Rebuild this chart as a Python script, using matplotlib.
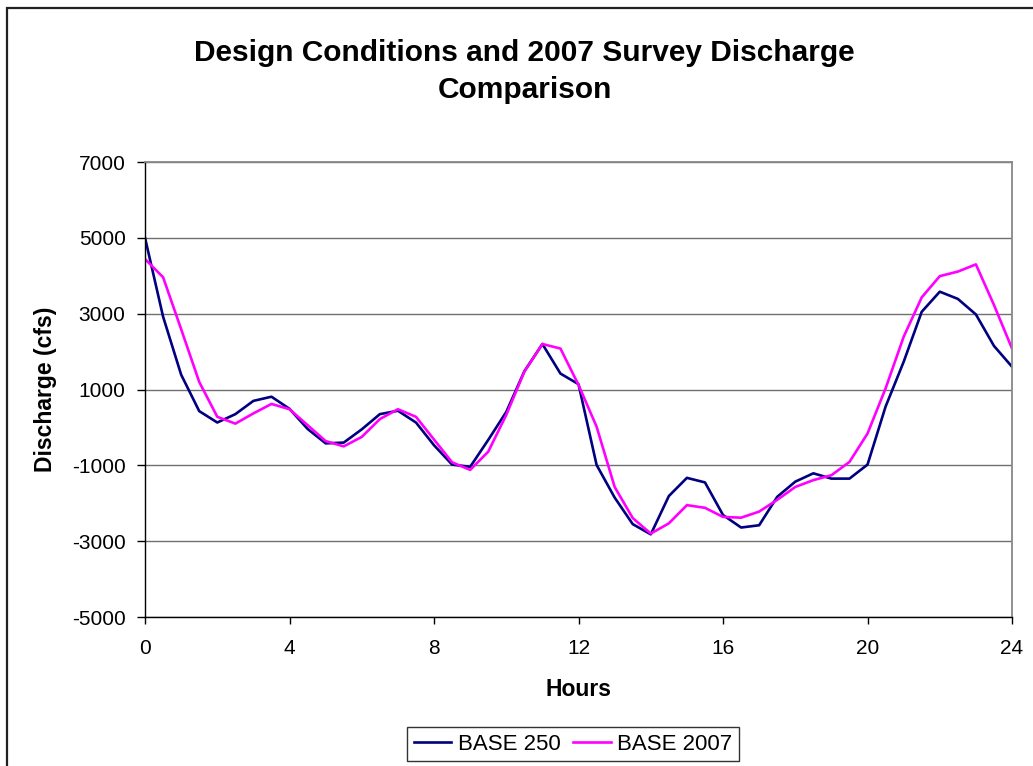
import matplotlib.pyplot as plt
from matplotlib.patches import Rectangle

# half-hourly discharge (cfs)
hours = [0, 0.5, 1, 1.5, 2, 2.5, 3, 3.5, 4, 4.5, 5, 5.5, 6, 6.5, 7, 7.5,
         8, 8.5, 9, 9.5, 10, 10.5, 11, 11.5, 12, 12.5, 13, 13.5, 14, 14.5,
         15, 15.5, 16, 16.5, 17, 17.5, 18, 18.5, 19, 19.5, 20, 20.5, 21,
         21.5, 22, 22.5, 23, 23.5, 24]

base_250 = [5000, 2920, 1390, 430, 130, 350, 700, 810, 490, -40, -420, -400,
            -50, 350, 440, 130, -470, -980, -1040, -330, 410, 1480, 2200,
            1420, 1140, -990, -1850, -2550, -2820, -1810, -1330, -1450,
            -2310, -2640, -2580, -1830, -1430, -1210, -1350, -1350, -980,
            550, 1730, 3050, 3580, 3390, 2980, 2150, 1600]

base_2007 = [4440, 3960, 2590, 1200, 280, 100, 370, 620, 480, 60, -360, -500,
             -250, 220, 480, 280, -320, -920, -1120, -640, 330, 1470, 2200,
             2080, 1120, 20, -1570, -2390, -2800, -2530, -2050, -2120,
             -2360, -2380, -2220, -1910, -1570, -1390, -1260, -910, -160,
             1030, 2390, 3430, 3990, 4110, 4300, 3230, 2080]

x_ticks = [0, 4, 8, 12, 16, 20, 24]
y_ticks = [-5000, -3000, -1000, 1000, 3000, 5000, 7000]

plt.rcParams['font.family'] = ['Liberation Sans', 'DejaVu Sans']
plt.rcParams['axes.unicode_minus'] = False

fig = plt.figure(figsize=(10.33, 7.66), dpi=100)
ax = fig.add_axes([0.1404, 0.1945, 0.8393, 0.594])

# outer chart border (only left and top are inside the crop)
fig.patches.append(Rectangle((6.5 / 1033, -0.1), 1.2, 1 - 7.5 / 766 + 0.1,
                             transform=fig.transFigure, fill=False,
                             edgecolor='#222222', linewidth=1.6))

ax.plot(hours, base_250, color='#000080', linewidth=1.9, label='BASE 250')
ax.plot(hours, base_2007, color='#ff00ff', linewidth=1.9, label='BASE 2007')

ax.set_xlim(0, 24)
ax.set_ylim(-5000, 7000)
ax.set_xticks(x_ticks)
ax.set_yticks(y_ticks)
ax.grid(axis='y', color='#707070', linewidth=1.0)
ax.set_axisbelow(True)

for side in ['left', 'bottom']:
    ax.spines[side].set_color('black')
    ax.spines[side].set_linewidth(1.0)
for side in ['top', 'right']:
    ax.spines[side].set_color('#888888')
    ax.spines[side].set_linewidth(1.3)

ax.tick_params(axis='y', length=6, width=1, pad=8, labelsize=15)
ax.tick_params(axis='x', length=5, width=1, pad=11, labelsize=15)

ax.set_xlabel('Hours', fontsize=16.5, fontweight='bold', labelpad=14)
ax.set_ylabel('Discharge (cfs)', fontsize=16.5, fontweight='bold', labelpad=11)

fig.text(0.5077, 0.907, 'Design Conditions and 2007 Survey Discharge\nComparison',
         ha='center', va='center', fontsize=21.5, fontweight='bold', linespacing=1.4)

leg = fig.legend(loc='center', bbox_to_anchor=(573 / 1033, 1 - 744 / 766),
                 ncol=2, fontsize=16, frameon=True, fancybox=False,
                 edgecolor='black', handlelength=1.7, columnspacing=0.55,
                 handletextpad=0.3, borderpad=0.3, borderaxespad=0)
leg.get_frame().set_linewidth(1.0)

fig.savefig('out.png', dpi=100)
